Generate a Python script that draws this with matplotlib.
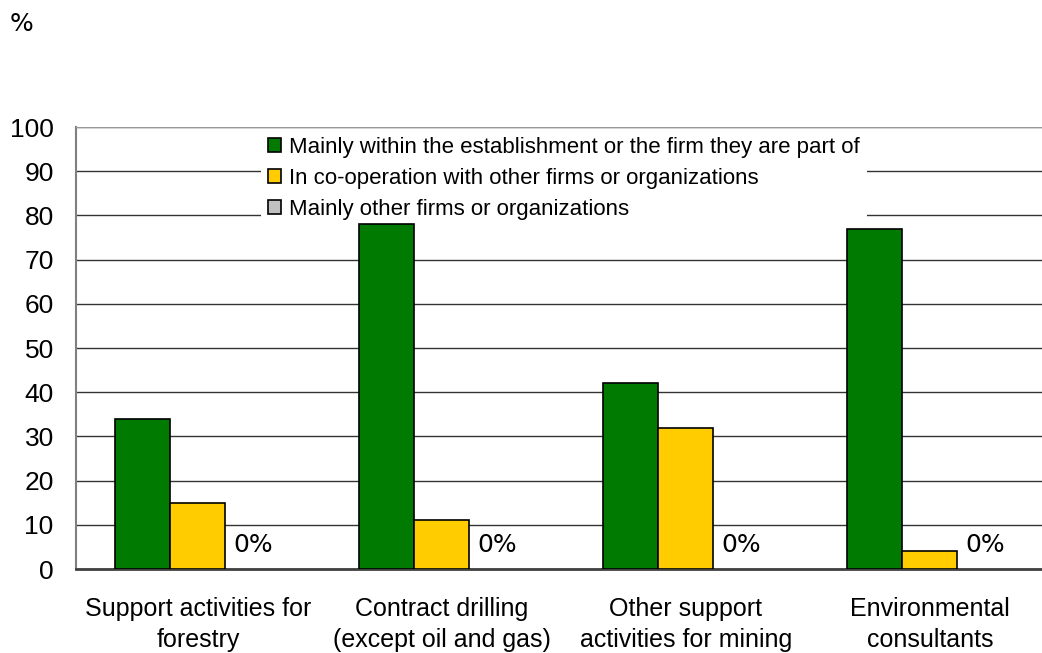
import matplotlib
matplotlib.use("Agg")
import matplotlib.pyplot as plt
import numpy as np

plt.rcParams['font.family'] = ['Liberation Sans', 'DejaVu Sans']

# Industries and the share (%) of innovations developed by each party
categories = ['Support activities for\nforestry',
              'Contract drilling\n(except oil and gas)',
              'Other support\nactivities for mining',
              'Environmental\nconsultants']
series_names = ['Mainly within the establishment or the firm they are part of',
                'In co-operation with other firms or organizations',
                'Mainly other firms or organizations']
within_firm = [34, 78, 42, 77]
cooperation = [15, 11, 32, 4]
other_firms = [0, 0, 0, 0]
colors = ['#007A00', '#FFCC00', '#C0C0C0']

fig = plt.figure(figsize=(10.42, 6.53), dpi=100)
ax = fig.add_axes([0.0729, 0.1286, 0.9367, 0.6769])

x = np.arange(len(categories))
width = 0.2254
all_bars = []
for i, vals in enumerate([within_firm, cooperation, other_firms]):
    bars = ax.bar(x + (i - 1) * width, vals, width, color=colors[i],
                  edgecolor='black', linewidth=1.2, label=series_names[i], zorder=3)
    all_bars.append(bars)
    if i == 2:
        for b, v in zip(bars, vals):
            ax.annotate('{:.0f}%'.format(v), (b.get_x(), v), xytext=(6, 9),
                        textcoords='offset points', ha='left', va='bottom',
                        fontsize=18, family='DejaVu Sans', zorder=4)

ax.set_xlim(-0.5, len(categories) - 0.5)
ax.set_ylim(0, 100)
ax.set_yticks(range(0, 101, 10))
ax.yaxis.grid(True, color='#333333', linewidth=1.0, zorder=0)
ax.set_axisbelow(True)
ax.tick_params(axis='y', length=0, pad=16, labelsize=19)
ax.tick_params(axis='x', length=0, pad=20, labelsize=18)
ax.set_xticks(x)
ax.set_xticklabels(categories, linespacing=1.38)

for side in ['top', 'right']:
    ax.spines[side].set_visible(False)
ax.spines['left'].set_color('#808080')
ax.spines['left'].set_linewidth(1.5)
ax.spines['bottom'].set_color('#404040')
ax.spines['bottom'].set_linewidth(2)
ax.axhline(100, color='#999999', linewidth=1.5, zorder=6)

leg = ax.legend(loc='upper center', bbox_to_anchor=(0.5, 1.018), frameon=True,
                fontsize=16, handlelength=0.6, handleheight=0.6,
                handletextpad=0.35, labelspacing=0.45, borderpad=0.3)
leg.get_frame().set_edgecolor('none')
leg.get_frame().set_facecolor('white')
leg.get_frame().set_alpha(1)
leg.set_zorder(2.5)

# zero-height bars leave no outline on the baseline
for bars in all_bars:
    for b in bars:
        if b.get_height() == 0:
            b.set_linewidth(0)

fig.text(0.0096, 0.982, '%', fontsize=18, family='DejaVu Sans', va='top', ha='left')

fig.savefig('out.png', dpi=100)
